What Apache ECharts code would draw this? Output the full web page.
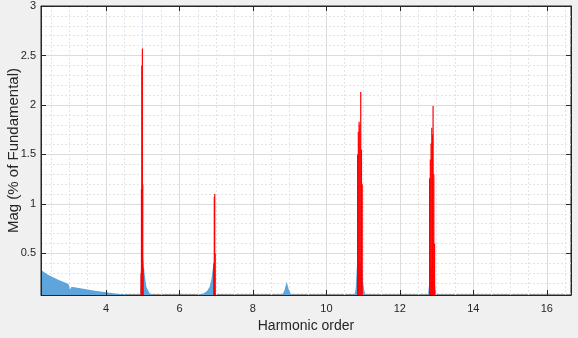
<!DOCTYPE html>
<html>
<head>
<meta charset="utf-8">
<script src="https://cdn.jsdelivr.net/npm/echarts@6/dist/echarts.min.js"></script>
<style>
  html, body { margin: 0; padding: 0; background: #f0f0f0; }
  #wrap { position: relative; width: 578px; height: 338px; }
  #plotbg { position: absolute; left: 41px; top: 6px; width: 530px; height: 289px; background: #ffffff; }
  #chart { position: absolute; left: 0; top: 0; width: 578px; height: 338px; }
</style>
</head>
<body>
<div id="wrap">
  <div id="plotbg"></div>
  <div id="chart"></div>
</div>
<script>
// spectrum (blue area)
const spectrumOrder = [2.23, 2.3, 2.4, 2.5, 2.6, 2.7, 2.8, 2.9, 2.98, 3.0, 3.02, 3.06, 3.1, 3.3, 3.5, 3.7, 3.9, 4.1, 4.3, 4.5, 4.7, 4.85,
  4.93, 4.95, 4.97, 4.98, 4.985, 4.99, 5.01, 5.05, 5.1, 5.19, 5.3, 5.45,
  6.4, 6.55, 6.65, 6.75, 6.82, 6.87, 6.9, 6.93, 6.96, 6.98, 7.05,
  8.7, 8.8, 8.86, 8.92, 8.97, 9.03, 9.1,
  10.7, 10.77, 10.8, 10.83, 10.9, 10.97, 11.0, 11.05, 11.12,
  12.72, 12.77, 12.8, 12.83, 12.9, 12.93, 12.97, 13.02, 16.66];
const spectrumMag = [0.335, 0.315, 0.29, 0.27, 0.252, 0.235, 0.218, 0.204, 0.192, 0.16, 0.135, 0.163, 0.162, 0.148, 0.135, 0.122, 0.112, 0.102, 0.093, 0.085, 0.078, 0.07,
  0.08, 0.33, 0.3, 0.5, 3.5, 0.5, 0.46, 0.3, 0.16, 0.095, 0.078, 0.06,
  0.05, 0.075, 0.095, 0.12, 0.16, 0.24, 0.33, 0.39, 0.3, 0.08, 0.04,
  0.04, 0.08, 0.13, 0.215, 0.14, 0.09, 0.04,
  0.04, 0.08, 0.15, 0.37, 0.42, 0.37, 0.2, 0.09, 0.04,
  0.04, 0.09, 0.2, 0.36, 0.35, 0.28, 0.14, 0.04, 0.03];

// harmonic bins (red)
const harmonicOrder = [4.955, 4.965, 4.975, 4.99, 5.0, 5.01,
  6.935, 6.948, 6.96, 6.972,
  10.85, 10.87, 10.89, 10.91, 10.935, 10.955, 10.975,
  12.81, 12.83, 12.85, 12.87, 12.89, 12.905, 12.925, 12.945];
const harmonicMag = [0.3, 1.15, 2.4, 2.57, 1.2, 0.35,
  0.4, 1.07, 1.1, 0.5,
  1.5, 1.73, 1.83, 1.8, 2.13, 1.55, 1.2,
  1.26, 1.45, 1.61, 1.77, 1.7, 1.99, 1.3, 0.6];

const xMajorTicks = [4, 6, 8, 10, 12, 14, 16];
const xMinorTicks = [2.5, 3, 3.5, 4.5, 5, 5.5, 6.5, 7, 7.5, 8.5, 9, 9.5, 10.5, 11, 11.5, 12.5, 13, 13.5, 14.5, 15, 15.5, 16.5];
const yMajorTicks = [0.5, 1, 1.5, 2, 2.5, 3];
const yMinorTicks = [0.1, 0.2, 0.3, 0.4, 0.6, 0.7, 0.8, 0.9, 1.1, 1.2, 1.3, 1.4, 1.6, 1.7, 1.8, 1.9,
  2.1, 2.2, 2.3, 2.4, 2.6, 2.7, 2.8, 2.9];

const X_MIN = 2.23, X_MAX = 16.66, Y_MIN = 0.08, Y_MAX = 3;
const FONT = '"Liberation Sans", Arial, sans-serif';
const INK = '#262626';

const chart = echarts.init(document.getElementById('chart'));

// grid-line only axis (no line, no ticks)
const gridAxis = (min, max, values, dotted, extra) => Object.assign({
  type: 'value', min, max,
  axisLine: { show: false, onZero: false },
  axisTick: { show: false, customValues: values },
  axisLabel: { show: false },
  splitLine: { show: true, lineStyle: dotted
    ? { color: '#e4e4e4', width: 1, type: [2, 2] }
    : { color: '#dcdcdc', width: 1 } },
  z: 0,
}, extra);

// box side with matlab-style inward ticks, drawn above the grid lines
const boxAxis = (min, max, position, values) => ({
  type: 'value', min, max, position,
  axisLine: { show: true, onZero: false, lineStyle: { color: INK, width: 1 } },
  axisTick: { show: true, inside: true, length: 5, lineStyle: { color: INK, width: 1 }, customValues: values },
  axisLabel: { show: false },
  splitLine: { show: false },
  z: 10,
});

chart.setOption({
  animation: false,
  backgroundColor: 'transparent',
  grid: {
    left: 41, right: 7, top: 6, bottom: 43, containLabel: false, outerBoundsMode: 'none',
    show: true, backgroundColor: 'transparent', borderColor: INK, borderWidth: 1,
  },
  xAxis: [
    gridAxis(X_MIN, X_MAX, xMajorTicks, false, {
      position: 'bottom',
      axisLabel: { show: true, color: INK, fontSize: 11, fontFamily: FONT, margin: 8, customValues: xMajorTicks },
      name: 'Harmonic order', nameLocation: 'middle', nameGap: 24, nameMoveOverlap: false,
      nameTextStyle: { color: INK, fontSize: 14, fontFamily: FONT },
    }),
    gridAxis(X_MIN, X_MAX, xMinorTicks, true, { position: 'bottom' }),
    boxAxis(X_MIN, X_MAX, 'bottom', xMajorTicks),
    boxAxis(X_MIN, X_MAX, 'top', xMajorTicks),
  ],
  yAxis: [
    gridAxis(Y_MIN, Y_MAX, yMajorTicks, false, {
      position: 'left',
      axisLabel: { show: true, color: INK, fontSize: 11, fontFamily: FONT, margin: 5, customValues: yMajorTicks },
      name: 'Mag (% of Fundamental)', nameLocation: 'middle', nameGap: 20, nameMoveOverlap: false,
      nameTextStyle: { color: INK, fontSize: 15, fontFamily: FONT },
    }),
    gridAxis(Y_MIN, Y_MAX, yMinorTicks, true, { position: 'left' }),
    boxAxis(Y_MIN, Y_MAX, 'left', yMajorTicks),
    boxAxis(Y_MIN, Y_MAX, 'right', yMajorTicks),
  ],
  series: [
    {
      name: 'Spectrum',
      type: 'line',
      xAxisIndex: 0, yAxisIndex: 0,
      data: spectrumOrder.map((x, i) => [x, spectrumMag[i]]),
      symbol: 'none',
      lineStyle: { width: 0, opacity: 0 },
      areaStyle: { color: '#5ea5db', opacity: 1 },
      clip: true,
      z: 2,
    },
    {
      name: 'Harmonics',
      type: 'bar',
      xAxisIndex: 0, yAxisIndex: 0,
      data: harmonicOrder.map((x, i) => [x, harmonicMag[i]]),
      barWidth: 1.2,
      itemStyle: { color: '#ff0000' },
      clip: true,
      z: 3,
    },
  ],
});
</script>
</body>
</html>
